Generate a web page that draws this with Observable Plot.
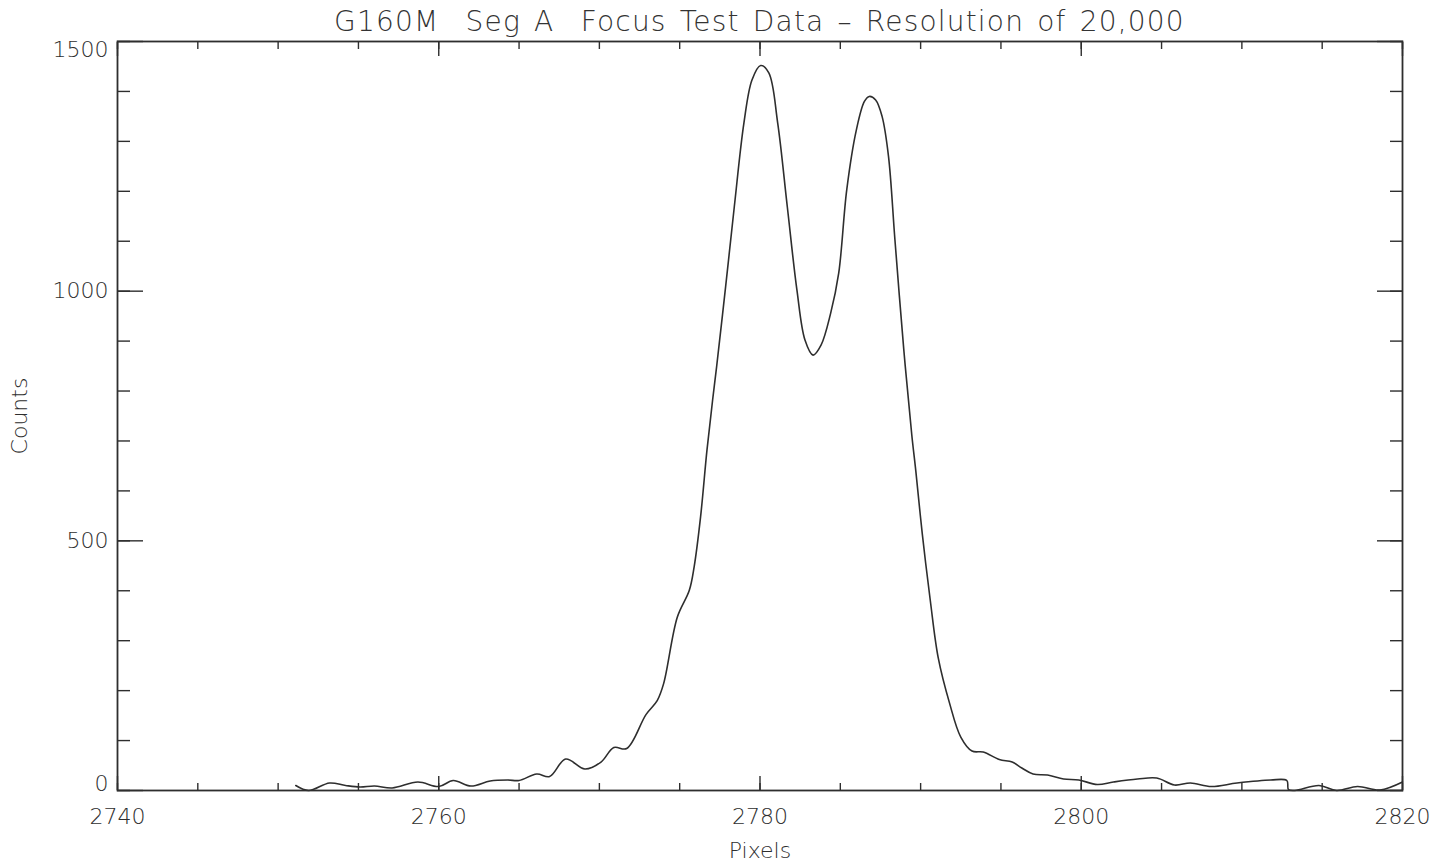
<!DOCTYPE html>
<html><head><meta charset="utf-8">
<script src="https://cdn.jsdelivr.net/npm/d3@7"></script>
<script src="https://cdn.jsdelivr.net/npm/@observablehq/plot@0.6"></script>
<style>
body{margin:0;background:#fff;width:1439px;height:862px;overflow:hidden}
#title{height:36px;line-height:44px;font-family:"DejaVu Sans";font-weight:200;font-size:28px;color:#333;text-align:center;padding-left:117px;padding-right:37px;letter-spacing:1.2px;word-spacing:3px;white-space:pre}
</style></head><body>
<div id="title">G160M  Seg A  Focus Test Data – Resolution of 20,000</div>
<div id="chart"></div>
<script>
const pixels = [2751.1,2751.9,2753.2,2754.2,2755.1,2756.0,2757.1,2758.7,2760.0,2760.9,2762.0,2763.2,2764.3,2765.0,2766.1,2766.9,2767.9,2769.1,2770.1,2770.9,2771.7,2772.9,2773.6,2774.0,2774.85,2775.6,2775.9,2776.3,2776.7,2777.05,2777.3,2777.86,2778.4,2779.0,2779.5,2780.04,2780.55,2781.1,2781.7,2782.3,2782.8,2783.3,2783.8,2784.4,2784.9,2785.4,2786.0,2786.5,2786.8,2787.2,2787.6,2788.0,2788.4,2788.96,2789.45,2789.7,2790.1,2790.6,2791.1,2791.8,2792.5,2793.2,2793.9,2794.9,2795.7,2796.3,2797.0,2797.9,2798.9,2799.85,2801.0,2802.0,2803.5,2804.7,2805.8,2806.8,2808.1,2809.7,2811.8,2812.8,2812.9,2813.3,2814.8,2815.9,2817.2,2818.6,2820.0];
const counts = [10,0,15,10,7,9,5,17,8,20,9,19,21,20,33,28,63,43,57,86,84,152,180,214,347,401,448,548,682,782,849,1009,1169,1337,1423,1452,1437,1337,1169,1002,902,872,892,956,1036,1203,1323,1380,1390,1383,1350,1270,1103,880,712,640,515,381,265,175,107,79,77,62,57,45,33,31,23,21,12,17,23,25,11,15,8,15,21,20,2,0,10,0,8,1,17];
const xMajor = [2740,2760,2780,2800,2820];
const xMinor = d3.range(2740,2821,5);
const yMajor = [0,500,1000,1500];
const yMinor = d3.range(0,1501,100);
const xLabel = "Pixels";
const yLabel = "Counts";

const data = pixels.map((x,i)=>({x, y:counts[i]}));
const ink = "#2e2e2e";
const blank = () => "";
const fmt = d => String(d);

const plot = Plot.plot({
  width:1439, height:826,
  marginTop:5, marginBottom:72, marginLeft:117, marginRight:37,
  x:{domain:[2740,2820]},
  y:{domain:[0,1500]},
  style:{fontFamily:"DejaVu Sans", fontSize:"22px", fontWeight:200, color:ink, background:"#fff"},
  marks:[
    Plot.axisX({anchor:"bottom", ticks:xMinor, tickSize:-7, tickFormat:blank, label:null, stroke:ink, strokeWidth:1.4}),
    Plot.axisX({anchor:"bottom", ticks:xMajor, tickSize:-14, tickFormat:blank, label:null, stroke:ink, strokeWidth:1.4}),
    Plot.axisX({anchor:"top", ticks:xMinor, tickSize:-7, tickFormat:blank, label:null, stroke:ink, strokeWidth:1.4}),
    Plot.axisX({anchor:"top", ticks:xMajor, tickSize:-14, tickFormat:blank, label:null, stroke:ink, strokeWidth:1.4}),
    Plot.axisY({anchor:"left", ticks:yMinor, tickSize:-13, tickFormat:blank, label:null, stroke:ink, strokeWidth:1.4}),
    Plot.axisY({anchor:"left", ticks:yMajor, tickSize:-26, tickFormat:blank, label:null, stroke:ink, strokeWidth:1.4}),
    Plot.axisY({anchor:"right", ticks:yMinor, tickSize:-13, tickFormat:blank, label:null, stroke:ink, strokeWidth:1.4}),
    Plot.axisY({anchor:"right", ticks:yMajor, tickSize:-26, tickFormat:blank, label:null, stroke:ink, strokeWidth:1.4}),
    Plot.axisX({anchor:"bottom", ticks:xMajor, tickSize:0, tickPadding:18, tickFormat:fmt, fontSize:22, label:xLabel, labelAnchor:"center", labelOffset:67, labelArrow:"none", fill:ink}),
    Plot.axisY({anchor:"left", ticks:[500,1000], tickSize:0, tickPadding:9, tickFormat:fmt, fontSize:22, label:null, fill:ink}),
    Plot.axisY({anchor:"left", ticks:[1500], tickSize:0, tickPadding:9, tickFormat:fmt, fontSize:22, dy:8, label:null, fill:ink}),
    Plot.axisY({anchor:"left", ticks:[0], tickSize:0, tickPadding:9, tickFormat:fmt, fontSize:22, dy:-7, label:yLabel, labelAnchor:"center", labelOffset:106, labelArrow:"none", fill:ink}),
    Plot.frame({stroke:ink, strokeWidth:1.8}),
    Plot.line(data, {x:"x", y:"y", curve:"catmull-rom", stroke:ink, strokeWidth:1.6})
  ]
});
document.getElementById("chart").appendChild(plot);
</script>
</body></html>
